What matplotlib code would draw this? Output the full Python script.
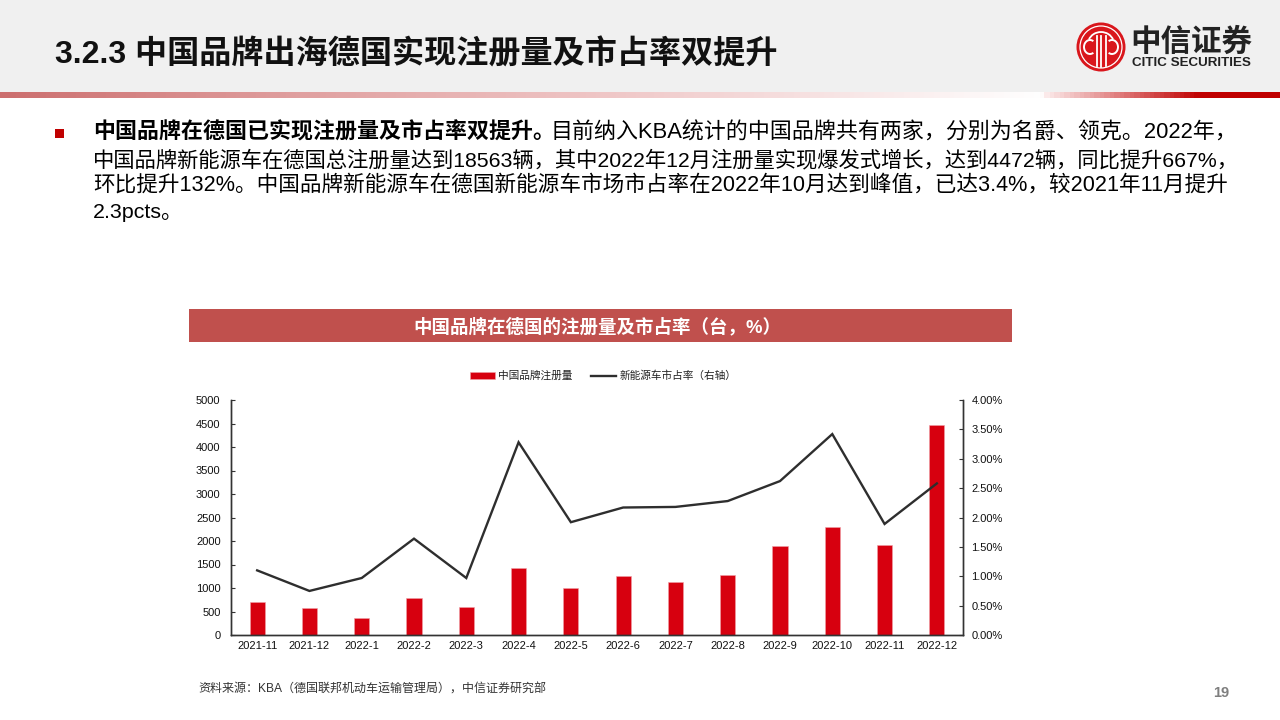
import numpy as np
import matplotlib
matplotlib.use('Agg')
import matplotlib.pyplot as plt
from matplotlib.patches import Rectangle, Circle, Arc
from matplotlib.colors import LinearSegmentedColormap
from matplotlib.ticker import FuncFormatter

plt.rcParams['font.family'] = ['Liberation Sans', 'Noto Sans CJK SC', 'DejaVu Sans']

months = ['2021-11', '2021-12', '2022-1', '2022-2', '2022-3', '2022-4', '2022-5',
          '2022-6', '2022-7', '2022-8', '2022-9', '2022-10', '2022-11', '2022-12']
registrations = [710, 570, 360, 790, 590, 1420, 990, 1250, 1120, 1280, 1890, 2300, 1910, 4472]
share = [1.10, 0.75, 0.97, 1.64, 0.97, 3.28, 1.92, 2.17, 2.18, 2.28, 2.62, 3.42, 1.89, 2.58]

title = '3.2.3 中国品牌出海德国实现注册量及市占率双提升'
lead = '中国品牌在德国已实现注册量及市占率双提升。'
body = ['目前纳入KBA统计的中国品牌共有两家，分别为名爵、领克。2022年，',
        '中国品牌新能源车在德国总注册量达到18563辆，其中2022年12月注册量实现爆发式增长，达到4472辆，同比提升667%，',
        '环比提升132%。中国品牌新能源车在德国新能源车市场市占率在2022年10月达到峰值，已达3.4%，较2021年11月提升',
        '2.3pcts。']
chart_title = '中国品牌在德国的注册量及市占率（台，%）'
source = '资料来源：KBA（德国联邦机动车运输管理局），中信证券研究部'

fig = plt.figure(figsize=(12.8, 7.2), dpi=100)

# page layer in pixel coordinates
page = fig.add_axes([0, 0, 1, 1])
page.set_xlim(0, 1280)
page.set_ylim(720, 0)
page.axis('off')

page.add_patch(Rectangle((0, 0), 1280, 92, color='#F0F0F0', lw=0))

# header stripe, fades out then back to dark red
stripe = LinearSegmentedColormap.from_list('stripe', [
    (0, '#CC6E6E'), (0.235, '#E0A0A0'), (0.47, '#EFC6C6'), (0.815, '#FFFFFF'),
    (0.82, '#FBE8E8'), (0.94, '#C00000'), (1, '#C00000')])
page.imshow(np.linspace(0, 1, 640).reshape(1, -1), cmap=stripe, extent=(0, 1280, 98, 92), aspect='auto')
page.set_xlim(0, 1280)
page.set_ylim(720, 0)

page.text(55, 55, title, fontsize=23.1, fontweight='bold', color='#111111', va='center')

# logo
page.add_patch(Circle((1101, 47), 24.5, color='#D9161C', lw=0))
page.add_patch(Circle((1101, 47), 21, fill=False, ec='white', lw=0.9))
for cx, a1, a2 in ((1090, 60, 300), (1112, -120, 120)):
    page.add_patch(Arc((cx, 47), 12, 14, theta1=a1, theta2=a2, color='white', lw=1.4))
for dx in (-4.5, 4.5):
    page.plot([1101 + dx, 1101 + dx], [36, 66], color='white', lw=1.3)
page.plot([1101, 1101], [36, 67], color='white', lw=1.3)
page.add_patch(Arc((1101, 44), 26, 24, theta1=200, theta2=340, color='white', lw=1.3))

page.text(1191, 41.5, '中信证券', fontsize=22, fontweight='bold', color='#222222', ha='center', va='center',
          family=['Noto Sans CJK SC', 'DejaVu Sans'])
page.text(1191.5, 63, 'CITIC SECURITIES', fontsize=9.6, fontweight='bold', color='#222222', ha='center', va='center')

# bullet text
page.add_patch(Rectangle((55, 129), 9, 9, color='#C00000', lw=0))
page.text(93, 133, lead, fontsize=15.8, fontweight='bold', color='black', va='center')
page.text(551, 133, body[0], fontsize=15.8, color='black', va='center')
for y, line, size in zip((160, 185, 212), body[1:], (15.35, 15.55, 15.4)):
    page.text(93, y, line, fontsize=size, color='black', va='center')

page.add_patch(Rectangle((189, 309), 823, 33, color='#C0504D', lw=0))
page.text(597, 327, chart_title, fontsize=13.3, fontweight='bold', color='white', ha='center', va='center')

page.text(198, 690, source, fontsize=8.65, color='#333333', va='center')
page.text(1221, 693, '19', fontsize=10.5, fontweight='bold', color='#7F7F7F', ha='center', va='center')

# chart
ax = fig.add_axes([231 / 1280, 1 - 635 / 720, 732 / 1280, 235 / 720])
ax.patch.set_alpha(0)
x = np.arange(len(months))
bars = ax.bar(x, registrations, width=0.29, color='#D7000F', edgecolor='#F0A0A8', linewidth=0.4,
              label='中国品牌注册量')
ax.set_xlim(-0.5, len(months) - 0.5)
ax.set_ylim(0, 5000)
ax.set_yticks(range(0, 5001, 500))
ax.set_xticks(x)
ax.set_xticklabels(months)
ax.tick_params(axis='x', length=0, labelsize=8, pad=4, colors='#111111')
ax.tick_params(axis='y', direction='in', length=3, width=0.8, color='#333333', labelsize=8, pad=7.5, labelcolor='#111111')

ax2 = ax.twinx()
line, = ax2.plot(x, share, color='#2E2E2E', lw=1.7, solid_joinstyle='miter', label='新能源车市占率（右轴）')
ax2.set_ylim(0, 4)
ax2.set_yticks(np.arange(0, 4.01, 0.5))
ax2.yaxis.set_major_formatter(FuncFormatter(lambda v, _: f'{v:.2f}%'))
ax2.tick_params(axis='y', direction='in', length=3, width=0.8, color='#333333', labelsize=8, pad=6, labelcolor='#111111')

for a in (ax, ax2):
    a.spines['top'].set_visible(False)
    for s in ('left', 'right', 'bottom'):
        a.spines[s].set_color('#333333')
        a.spines[s].set_linewidth(1.0)

leg = ax.legend([bars, line], [bars.get_label(), line.get_label()], loc='center', ncol=2,
                bbox_to_anchor=((603 - 231) / 732, (635 - 376) / 235), frameon=False, fontsize=7.7,
                handlelength=2.3, handleheight=0.5, handletextpad=0.3, columnspacing=1.8, labelcolor='#222222')

fig.savefig('out.png', dpi=100)
